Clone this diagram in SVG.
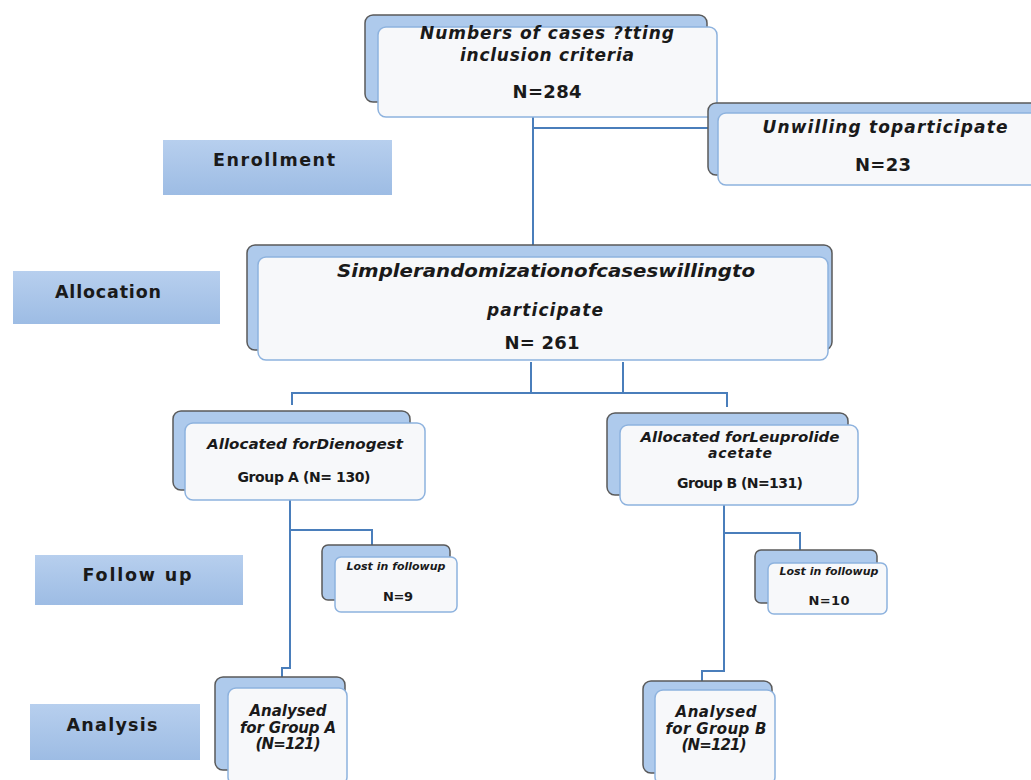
<svg xmlns="http://www.w3.org/2000/svg" width="1031" height="780" viewBox="0 0 1031 780">
<defs>
<linearGradient id="lg" x1="0" y1="0" x2="0" y2="1">
<stop offset="0" stop-color="#b7cfee"/>
<stop offset="1" stop-color="#9dbce4"/>
</linearGradient>
<style>
.back{fill:#aecaec;stroke:#5a5a5a;stroke-width:1.5}
.front{fill:#f7f8fa;stroke:#8db2de;stroke-width:1.5}
.lab{fill:url(#lg);stroke:none}
.conn{fill:none;stroke:#4a7ebb;stroke-width:2}
text{font-family:"DejaVu Sans","Liberation Sans",sans-serif;font-weight:bold;fill:#1a1a1a;text-anchor:middle}
.it{font-style:italic}
</style>
</defs>
<rect width="1031" height="780" fill="#ffffff"/>

<g id="connectors">
<path class="conn" d="M533 105 V245"/>
<path class="conn" d="M533 128 H712"/>
<path class="conn" d="M531 362 V393 M623 362 V393"/>
<path class="conn" d="M292 405 V393 H727 V407"/>
<path class="conn" d="M290 500 V668 H282 V680"/>
<path class="conn" d="M290 530 H372 V547"/>
<path class="conn" d="M724 505 V671 H702 V683"/>
<path class="conn" d="M724 533 H800 V550"/>
</g>

<g id="label-enrollment">
<rect class="lab" x="163" y="140" width="229" height="55"/>
<text x="274" y="166" font-size="17.5" textLength="122">Enrollment</text>
</g>
<g id="label-allocation">
<rect class="lab" x="13" y="271" width="207" height="53"/>
<text x="108" y="298" font-size="17.5" textLength="106">Allocation</text>
</g>
<g id="label-followup">
<rect class="lab" x="35" y="555" width="208" height="50"/>
<text x="137" y="581" font-size="17.5" textLength="109">Follow up</text>
</g>
<g id="label-analysis">
<rect class="lab" x="30" y="704" width="170" height="56"/>
<text x="112" y="731" font-size="17.5" textLength="91">Analysis</text>
</g>

<g id="node-inclusion">
<rect class="back" x="365" y="15" width="342" height="87" rx="8"/>
<rect class="front" x="378" y="27" width="339" height="90" rx="8"/>
<text class="it" x="547" y="39" font-size="17" textLength="254">Numbers of cases ?tting</text>
<text class="it" x="547" y="61" font-size="17" textLength="174">inclusion criteria</text>
<text x="547" y="98" font-size="18" textLength="69">N=284</text>
</g>

<g id="node-unwilling">
<rect class="back" x="708" y="103" width="330" height="72" rx="8"/>
<rect class="front" x="718" y="113" width="320" height="72" rx="8"/>
<text class="it" x="885" y="133" font-size="17" textLength="245">Unwilling toparticipate</text>
<text x="883" y="171" font-size="18" textLength="56">N=23</text>
</g>

<g id="node-randomization">
<rect class="back" x="247" y="245" width="585" height="105" rx="8"/>
<rect class="front" x="258" y="257" width="570" height="103" rx="8"/>
<text class="it" x="546" y="277" font-size="17" textLength="418" lengthAdjust="spacingAndGlyphs">Simplerandomizationofcaseswillingto</text>
<text class="it" x="545" y="316" font-size="17" textLength="116">participate</text>
<text x="542" y="349" font-size="18" textLength="75">N= 261</text>
</g>

<g id="node-groupA">
<rect class="back" x="173" y="411" width="237" height="79" rx="8"/>
<rect class="front" x="185" y="423" width="240" height="77" rx="8"/>
<text class="it" x="305" y="449" font-size="14" textLength="196" lengthAdjust="spacingAndGlyphs">Allocated forDienogest</text>
<text x="304" y="482" font-size="14" textLength="133">Group A (N= 130)</text>
</g>

<g id="node-groupB">
<rect class="back" x="607" y="413" width="241" height="82" rx="8"/>
<rect class="front" x="620" y="425" width="238" height="80" rx="8"/>
<text class="it" x="740" y="442" font-size="14" textLength="199" lengthAdjust="spacingAndGlyphs">Allocated forLeuprolide</text>
<text class="it" x="740" y="458" font-size="14" textLength="64">acetate</text>
<text x="740" y="488" font-size="14" textLength="126">Group B (N=131)</text>
</g>

<g id="node-lostA">
<rect class="back" x="322" y="545" width="128" height="55" rx="6"/>
<rect class="front" x="335" y="557" width="122" height="55" rx="6"/>
<text class="it" x="396" y="570" font-size="10.5" textLength="99" lengthAdjust="spacingAndGlyphs">Lost in followup</text>
<text x="398" y="601" font-size="13" textLength="30">N=9</text>
</g>

<g id="node-lostB">
<rect class="back" x="755" y="550" width="122" height="53" rx="6"/>
<rect class="front" x="768" y="563" width="119" height="51" rx="6"/>
<text class="it" x="829" y="575" font-size="10.5" textLength="99" lengthAdjust="spacingAndGlyphs">Lost in followup</text>
<text x="829" y="605" font-size="13" textLength="41">N=10</text>
</g>

<g id="node-analysedA">
<rect class="back" x="215" y="677" width="130" height="93" rx="8"/>
<rect class="front" x="228" y="688" width="119" height="97" rx="8"/>
<text class="it" x="288" y="716" font-size="15" textLength="77">Analysed</text>
<text class="it" x="288" y="733" font-size="15" textLength="96">for Group A</text>
<text class="it" x="288" y="749" font-size="15" textLength="65">(N=121)</text>
</g>

<g id="node-analysedB">
<rect class="back" x="643" y="681" width="129" height="92" rx="8"/>
<rect class="front" x="655" y="690" width="120" height="95" rx="8"/>
<text class="it" x="716" y="717" font-size="15" textLength="81">Analysed</text>
<text class="it" x="716" y="734" font-size="15" textLength="101">for Group B</text>
<text class="it" x="714" y="750" font-size="15" textLength="65">(N=121)</text>
</g>
</svg>
